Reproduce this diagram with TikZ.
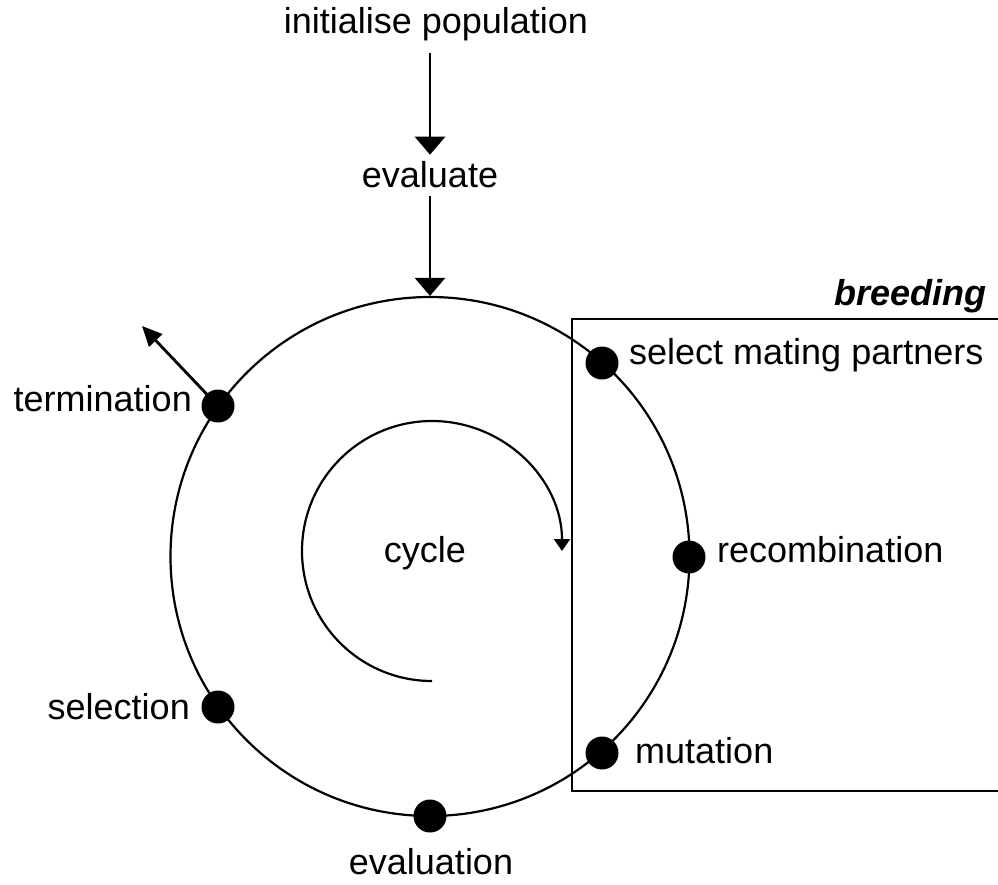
\documentclass[tikz,border=0pt]{standalone}
\usepackage{fontspec}
\setmainfont{Liberation Sans}
\usetikzlibrary{arrows.meta}
\begin{document}
\begin{tikzpicture}[x=1pt,y=-1pt,
  lbl/.style={inner sep=0pt,font=\fontsize{36}{43}\selectfont},
  dot/.style={circle,fill=black,minimum size=33pt,inner sep=0pt},
  flow/.style={line width=2.8pt,-{Triangle[width=30pt,length=18pt]}},
  ring/.style={circle,draw,line width=2.2pt,minimum size=519pt,inner sep=0pt}]
\useasboundingbox (0,0) rectangle (998,884);
% breeding box (open to the right edge)
\draw[line width=2.6pt] (998,319) -- (572,319) -- (572,791) -- (998,791);
\node[lbl,anchor=base east,font=\fontsize{36}{43}\selectfont\bfseries\itshape] (breed) at (987,305) {breeding};
% main loop
\node[ring] (loop) at (430,556.5) {};
% top flow
\node[lbl,anchor=base] (init) at (436,33) {initialise population};
\node[lbl,anchor=base] (eval) at (430,187) {evaluate};
\draw[flow,shorten <=12pt,shorten >=6pt] (init.south -| loop.north) -- (eval.north -| loop.north);
\draw[flow,shorten <=8pt] (eval.south -| loop.north) -- (loop.north);
% inner spiral
\node[lbl,anchor=base] (cyc) at (425,562) {cycle};
\draw[line width=2.2pt,-{Triangle[width=16pt,length=12pt]}] (432,681) arc[start angle=90,end angle=360,radius=130];
% stage dots
\node[dot] (d1) at (602,363) {};
\node[dot] (d2) at (689,557) {};
\node[dot] (d3) at (602,753) {};
\node[dot] (d4) at (430,816) {};
\node[dot] (d5) at (218,707) {};
\node[dot] (d6) at (218,406) {};
% labels
\node[lbl,anchor=base west] (t1) at (629,364) {select mating partners};
\node[lbl,anchor=base west] (t2) at (717,562) {recombination};
\node[lbl,anchor=base west] (t3) at (635,763) {mutation};
\node[lbl,anchor=base] (t4) at (431,874) {evaluation};
\node[lbl,anchor=base east] (t5) at (190,719) {selection};
\node[lbl,anchor=base east] (t6) at (192,411) {termination};
% termination exit
\coordinate (exit) at (142,326);
\draw[line width=2.8pt,-{Triangle[width=18pt,length=20pt]}] (d6.center) -- (exit);
\end{tikzpicture}
\end{document}
